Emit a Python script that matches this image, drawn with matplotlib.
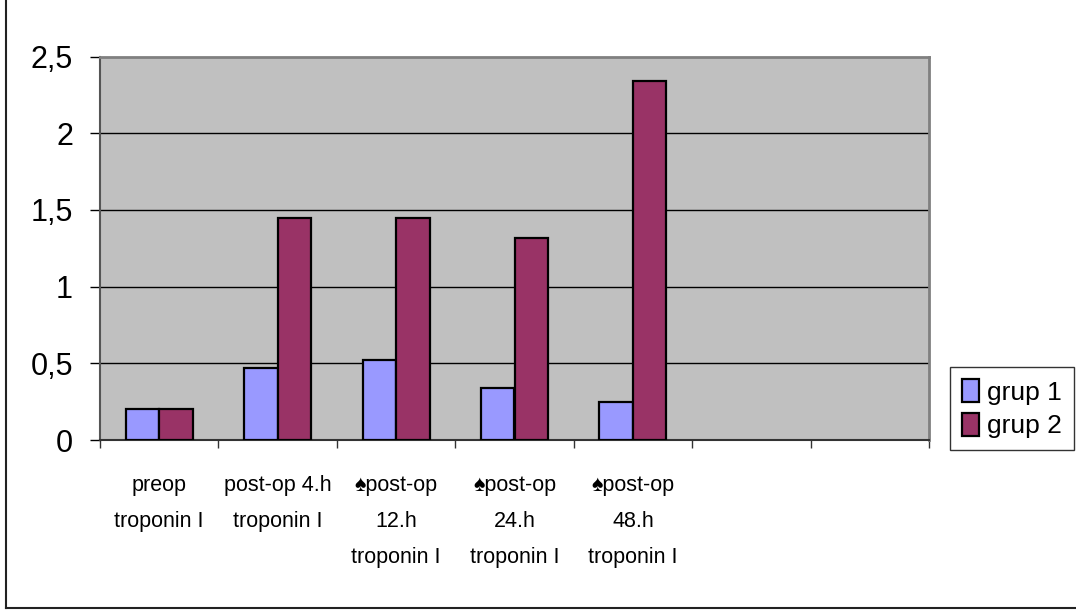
import matplotlib
matplotlib.use("Agg")
import matplotlib.pyplot as plt
from matplotlib.lines import Line2D
import numpy as np

# Troponin I levels per time point
categories = [
    "preop\ntroponin I",
    "post-op 4.h\ntroponin I",
    "\u2660post-op\n12.h\ntroponin I",
    "\u2660post-op\n24.h\ntroponin I",
    "\u2660post-op\n48.h\ntroponin I",
]
n_slots = 7  # category axis keeps two empty slots on the right
grup1 = [0.20, 0.47, 0.52, 0.34, 0.25]
grup2 = [0.20, 1.45, 1.45, 1.32, 2.34]
series_names = ["grup 1", "grup 2"]
yticks = [0, 0.5, 1, 1.5, 2, 2.5]
ytick_labels = ["0", "0,5", "1", "1,5", "2", "2,5"]

FONT = ["Liberation Sans", "DejaVu Sans"]
plt.rcParams["font.family"] = FONT

fig = plt.figure(figsize=(10.76, 6.11), dpi=100)
ax = fig.add_axes([100 / 1076, 1 - 440 / 611, 829 / 1076, (440 - 56.5) / 611])
ax.set_facecolor("#C0C0C0")

x = np.arange(len(categories))
w = 0.283
ax.bar(x - w / 2, grup1, width=w, color="#9999FF", edgecolor="black",
       linewidth=1.6, label=series_names[0], zorder=3)
ax.bar(x + w / 2, grup2, width=w, color="#993366", edgecolor="black",
       linewidth=1.6, label=series_names[1], zorder=3)

ax.set_xlim(-0.5, n_slots - 0.5)
ax.set_ylim(0, 2.5)

# horizontal gridlines
for yv in yticks[1:-1]:
    ax.axhline(yv, color="black", linewidth=1.0, zorder=1)

ax.set_yticks(yticks)
ax.set_yticklabels(ytick_labels, fontsize=22)
ax.tick_params(axis="y", length=7.5, width=1.0, pad=12, colors="black")

# x: tick marks on category boundaries, labels at centres
ax.set_xticks(np.arange(-0.5, n_slots, 1.0))
ax.set_xticklabels([])
ax.tick_params(axis="x", which="major", length=6, width=1.0, color="#333333")
ax.set_xticks(x, minor=True)
ax.set_xticklabels(categories, minor=True, fontsize=15.5, linespacing=1.95,
                   va="top")
ax.tick_params(axis="x", which="minor", length=0, pad=25)

for side in ["top", "right"]:
    ax.spines[side].set_color("#808080")
    ax.spines[side].set_linewidth(2.0)
ax.spines["left"].set_color("#555555")
ax.spines["left"].set_linewidth(1.5)
ax.spines["bottom"].set_color("#333333")
ax.spines["bottom"].set_linewidth(1.5)

leg = ax.legend(loc="upper left", bbox_to_anchor=(950 / 1076, 1 - 367 / 611),
                bbox_transform=fig.transFigure, fontsize=19, frameon=True,
                fancybox=False, borderpad=0.45, labelspacing=0.3,
                handlelength=0.65, handleheight=1.0, handletextpad=0.3,
                borderaxespad=0)
leg.get_frame().set_edgecolor("black")
leg.get_frame().set_linewidth(1.0)

# outer chart frame (left and bottom edges)
fig.add_artist(Line2D([6 / 1076, 6 / 1076], [1 - 608 / 611, 1.0],
                      transform=fig.transFigure, color="#222222", linewidth=1.5))
fig.add_artist(Line2D([6 / 1076, 1.0], [1 - 608 / 611, 1 - 608 / 611],
                      transform=fig.transFigure, color="#222222", linewidth=1.5))

fig.savefig("out.png", dpi=100)
